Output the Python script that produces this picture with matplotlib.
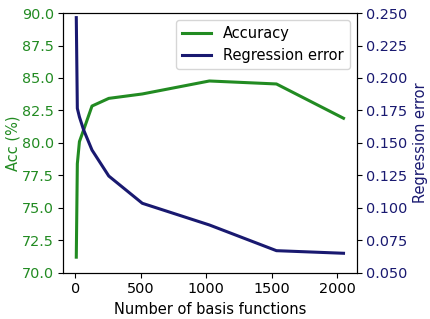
import matplotlib
matplotlib.use("Agg")
import matplotlib.pyplot as plt

# number of basis functions
n_basis = [8, 16, 32, 64, 128, 256, 512, 1024, 1536, 2048]
# accuracy (%) per basis count
accuracy = [71.2, 78.4, 80.1, 81.0, 82.84, 83.43, 83.77, 84.77, 84.54, 81.9]
# regression error per basis count
reg_error = [0.2465, 0.1766, 0.170, 0.160, 0.1445, 0.1245, 0.1035, 0.0868, 0.0670, 0.0650]

acc_color = "forestgreen"
err_color = "midnightblue"

fig = plt.figure(figsize=(4.31, 3.19), dpi=100)
ax = fig.add_axes([0.146, 0.145, 0.682, 0.814])
ax2 = ax.twinx()

l1, = ax.plot(n_basis, accuracy, color=acc_color, lw=2.2, label="Accuracy")
l2, = ax2.plot(n_basis, reg_error, color=err_color, lw=2.2, label="Regression error")

ax.set_ylim(70, 90)
ax2.set_ylim(0.05, 0.25)
ax.set_yticks([70, 72.5, 75, 77.5, 80, 82.5, 85, 87.5, 90])
ax2.set_yticks([0.05, 0.075, 0.1, 0.125, 0.15, 0.175, 0.2, 0.225, 0.25])
ax.set_xticks([0, 500, 1000, 1500, 2000])

ax.set_xlabel("Number of basis functions", fontsize=10.5)
ax.set_ylabel("Acc (%)", color=acc_color, fontsize=10.5)
ax2.set_ylabel("Regression error", color=err_color, fontsize=10.5)
ax.yaxis.set_label_coords(-0.144, 0.5)
ax2.yaxis.set_label_coords(1.19, 0.5)
ax.tick_params(axis="y", labelcolor=acc_color, labelsize=10.4, pad=3)
ax.tick_params(axis="x", labelsize=10.4)
ax2.tick_params(axis="y", labelcolor=err_color, labelsize=10.4, pad=3)

ax.legend(handles=[l1, l2], loc="upper right", fontsize=10.5)

fig.savefig("out.png", dpi=100)
